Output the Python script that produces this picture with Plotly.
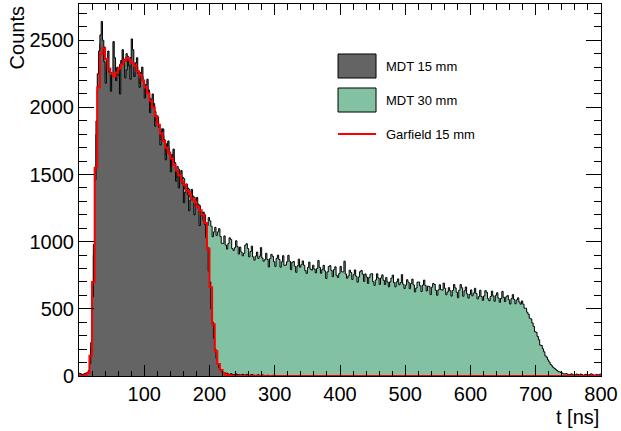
import numpy as np
import plotly.graph_objects as go

MDT_BIN = 2       # ns, bin width of the measured histograms
GARFIELD_BIN = 4  # ns, bin width of the simulated histogram

# MDT 30 mm counts per 2 ns bin, 0..800 ns
mdt30 = [
    16, 12, 8, 10, 13, 17, 21, 30, 74, 210,
    530, 900, 1400, 1800, 2130, 2330, 2470, 2370, 2350, 2450,
    2360, 2240, 2190, 2270, 2260, 2160, 2200, 2280, 2290, 2170,
    2240, 2320, 2350, 2250, 2270, 2350, 2400, 2300, 2290, 2370,
    2360, 2260, 2230, 2330, 2300, 2220, 2180, 2260, 2230, 2150,
    2170, 2090, 2050, 2130, 2070, 1990, 1950, 2030, 1970, 1890,
    1900, 1820, 1760, 1840, 1790, 1710, 1650, 1730, 1700, 1620,
    1570, 1650, 1620, 1540, 1480, 1560, 1540, 1460, 1400, 1480,
    1470, 1390, 1340, 1400, 1390, 1330, 1280, 1340, 1330, 1270,
    1220, 1280, 1270, 1210, 1160, 1220, 1200, 1140, 1120, 1180,
    1155, 1115, 1037, 1073, 1107, 1047, 1073, 1097, 1038, 988,
    987, 1043, 975, 945, 985, 1029, 1017, 949, 935, 955,
    1007, 963, 908, 960, 923, 895, 914, 974, 985, 949,
    887, 927, 967, 887, 863, 893, 923, 875, 892, 956,
    879, 855, 866, 914, 868, 812, 874, 906, 891, 851,
    816, 876, 900, 868, 810, 850, 896, 824, 826, 850,
    899, 855, 791, 847, 853, 817, 772, 820, 870, 810,
    829, 857, 825, 785, 764, 808, 848, 796, 789, 825,
    796, 768, 800, 860, 809, 765, 792, 824, 782, 726,
    775, 815, 822, 786, 740, 792, 813, 749, 734, 762,
    816, 776, 775, 855, 760, 728, 744, 788, 771, 719,
    754, 790, 743, 699, 737, 777, 786, 758, 704, 760,
    737, 689, 734, 758, 762, 702, 675, 715, 761, 729,
    682, 730, 753, 713, 681, 733, 700, 664, 701, 729,
    751, 695, 664, 700, 723, 679, 695, 755, 684, 652,
    677, 717, 698, 650, 689, 721, 678, 626, 655, 699,
    700, 672, 629, 677, 714, 674, 633, 669, 666, 606,
    661, 689, 682, 638, 601, 641, 679, 643, 640, 692,
    653, 605, 626, 658, 635, 595, 637, 681, 656, 624,
    583, 639, 681, 657, 594, 634, 663, 611, 580, 608,
    641, 597, 617, 653, 614, 574, 591, 639, 591, 563,
    596, 636, 623, 575, 560, 592, 632, 596, 557, 601,
    620, 580, 549, 577, 630, 586, 554, 590, 599, 567,
    536, 576, 606, 570, 538, 566, 582, 550, 535, 559,
    535, 505, 505, 475, 460, 430, 425, 395, 370, 330,
    325, 295, 270, 230, 228, 202, 180, 150, 140, 120,
    104, 86, 76, 64, 56, 48, 40, 32, 31, 25,
    22, 16, 14, 18, 13, 9, 12, 16, 10, 6,
    9, 15, 11, 7, 15, 11, 5, 9, 13, 9,
    7, 11, 16, 12, 8, 4, 12, 8, 10, 14,
]

# MDT 15 mm counts per 2 ns bin, 0..300 ns
mdt15 = [
    20, 16, 10, 14, 18, 22, 26, 40, 90, 250,
    590, 980, 1460, 1900, 2250, 2420, 2540, 2640, 2500, 2340,
    2180, 2320, 2420, 2260, 2120, 2240, 2490, 2370, 2200, 2300,
    2240, 2100, 2330, 2430, 2360, 2220, 2280, 2380, 2310, 2210,
    2510, 2430, 2230, 2330, 2370, 2250, 2150, 2250, 2300, 2200,
    2070, 2170, 2210, 2110, 1960, 2060, 2100, 2000, 1860, 1940,
    1930, 1850, 1720, 1820, 1840, 1760, 1610, 1690, 1750, 1650,
    1520, 1600, 1690, 1590, 1450, 1530, 1400, 1500, 1530, 1430,
    1290, 1370, 1430, 1350, 1230, 1310, 1390, 1310, 1200, 1280,
    1330, 1250, 1120, 1200, 1220, 1160, 1130, 1030, 960, 780,
    700, 500, 400, 280, 200, 130, 90, 60, 46, 34,
    28, 20, 15, 21, 14, 10, 18, 12, 7, 11,
    15, 11, 10, 6, 9, 13, 8, 6, 12, 8,
    4, 8, 11, 7, 6, 4, 7, 9, 5, 3,
    8, 6, 2, 4, 6, 4, 3, 1, 5, 3,
]

# Garfield 15 mm simulation per 4 ns bin, 0..240 ns (zero afterwards up to 800 ns)
garfield = [
    0, 0, 3, 20, 150, 700, 1550, 2150, 2400, 2440,
    2360, 2290, 2250, 2230, 2260, 2290, 2320, 2345, 2370, 2355,
    2330, 2310, 2270, 2245, 2200, 2150, 2105, 2050, 2000, 1935,
    1870, 1805, 1750, 1700, 1665, 1620, 1575, 1530, 1495, 1450,
    1425, 1380, 1355, 1320, 1295, 1260, 1235, 1200, 1140, 950,
    660, 385, 185, 90, 45, 22, 10, 5, 2, 0,
]

X_MAX = 800
Y_MAX = 2770


def step_xy(values, width, x_end=None):
    vals = list(values)
    if x_end is not None:
        nb = int(round(x_end / width))
        if len(vals) < nb:
            vals = vals + [0] * (nb - len(vals))
    edges = np.arange(len(vals) + 1) * width
    ys = vals + [vals[-1]]
    return edges, ys


fig = go.Figure()

x30, y30 = step_xy(mdt30, MDT_BIN)
fig.add_trace(go.Scatter(x=x30, y=y30, mode="lines", line=dict(shape="hv", color="black", width=1),
                         fill="tozeroy", fillcolor="#82c2a3", name="MDT 30 mm", showlegend=False,
                         hoverinfo="skip"))
x15, y15 = step_xy(mdt15, MDT_BIN)
fig.add_trace(go.Scatter(x=x15, y=y15, mode="lines", line=dict(shape="hv", color="black", width=1),
                         fill="tozeroy", fillcolor="#646464", name="MDT 15 mm", showlegend=False,
                         hoverinfo="skip"))
xg, yg = step_xy(garfield, GARFIELD_BIN, X_MAX)
fig.add_trace(go.Scatter(x=xg, y=yg, mode="lines", line=dict(shape="hv", color="#ff0000", width=2),
                         name="Garfield 15 mm", showlegend=False, hoverinfo="skip"))

FONT = "Liberation Sans, Arial, sans-serif"

fig.update_layout(
    width=621, height=431,
    margin=dict(l=79, r=20, t=4, b=55, autoexpand=False),
    paper_bgcolor="white", plot_bgcolor="white",
    font=dict(family=FONT, size=20, color="black"),
    xaxis=dict(
        range=[0, X_MAX], showgrid=False, zeroline=False,
        showline=True, linecolor="black", linewidth=1, mirror="allticks",
        ticks="inside", ticklen=11, tickcolor="black",
        tickvals=list(range(0, 801, 100)),
        ticktext=[""] + [str(v) for v in range(100, 801, 100)],
        minor=dict(dtick=20, ticks="inside", ticklen=5.5, tickcolor="black", showgrid=False),
        tickfont=dict(family=FONT, size=20),
    ),
    yaxis=dict(
        range=[0, Y_MAX], showgrid=False, zeroline=False,
        showline=True, linecolor="black", linewidth=1, mirror="allticks",
        ticks="inside", ticklen=15, tickcolor="black",
        tickvals=list(range(0, 2501, 500)),
        minor=dict(dtick=100, ticks="inside", ticklen=7.5, tickcolor="black", showgrid=False),
        tickfont=dict(family=FONT, size=20),
    ),
)

# axis titles (ROOT style placement)
fig.add_annotation(text="t [ns]", xref="paper", yref="paper", x=1, y=-0.075,
                   xanchor="right", yanchor="top", showarrow=False,
                   font=dict(family=FONT, size=20))
fig.add_annotation(text="Counts", xref="paper", yref="paper", x=-0.119, y=1.0,
                   xanchor="center", yanchor="top", textangle=-90, showarrow=False,
                   font=dict(family=FONT, size=20))

# legend drawn manually (ROOT TLegend look)
legend_items = [
    ("MDT 15 mm", "box", "#646464"),
    ("MDT 30 mm", "box", "#82c2a3"),
    ("Garfield 15 mm", "line", "#ff0000"),
]
lx0, lx1, ltext = 0.4962, 0.569, 0.5843
lrows = [0.8333, 0.7419, 0.6505]
half_h = 0.0323
for (label, kind, color), yc in zip(legend_items, lrows):
    if kind == "box":
        fig.add_shape(type="rect", xref="paper", yref="paper",
                      x0=lx0, x1=lx1, y0=yc - half_h, y1=yc + half_h,
                      fillcolor=color, line=dict(color="black", width=1))
    else:
        fig.add_shape(type="line", xref="paper", yref="paper",
                      x0=lx0, x1=lx1, y0=yc, y1=yc,
                      line=dict(color=color, width=2))
    fig.add_annotation(text=label, xref="paper", yref="paper", x=ltext, y=yc,
                       xanchor="left", yanchor="middle", showarrow=False,
                       font=dict(family=FONT, size=13))

fig.write_html("out.html", config={"displayModeBar": False},
               post_script="document.body.style.margin='0px';")
